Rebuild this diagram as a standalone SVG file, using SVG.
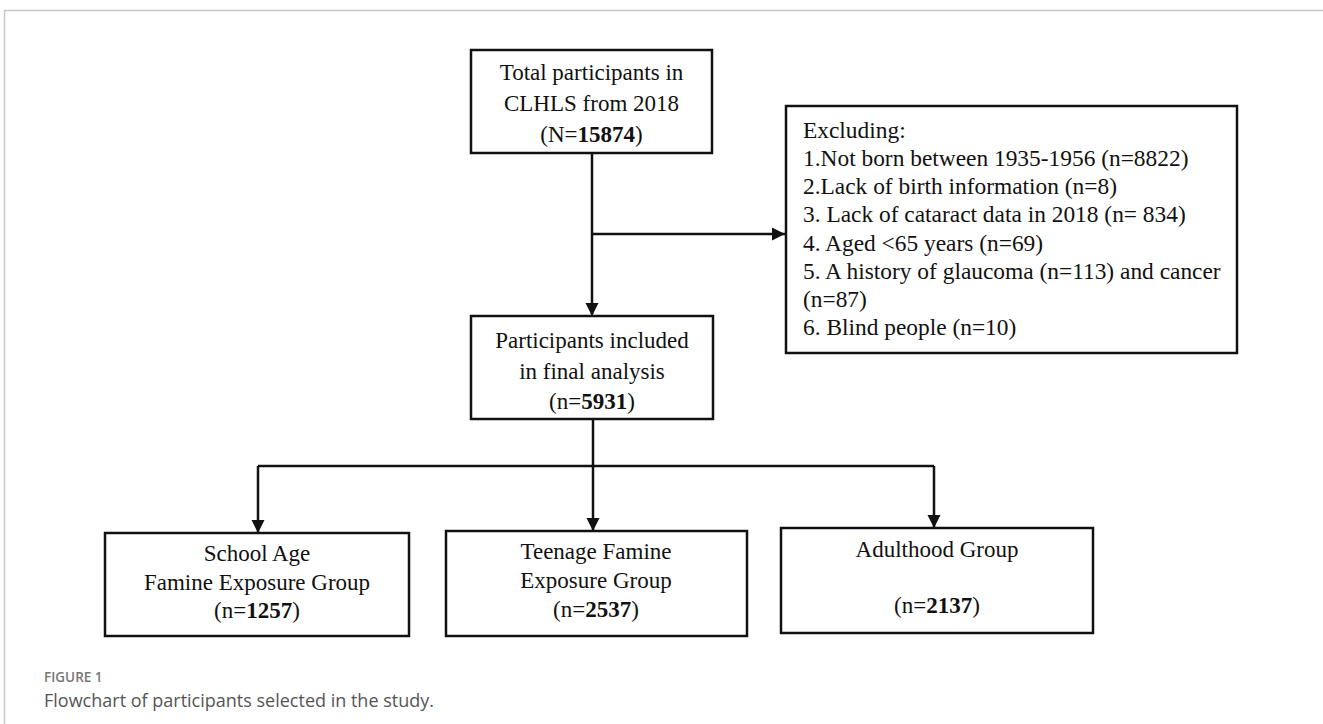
<svg xmlns="http://www.w3.org/2000/svg" width="1323" height="724" viewBox="0 0 1323 724">
<style>
.box{fill:#fff;stroke:#111;stroke-width:2.5}
.t{font-family:"Liberation Serif","Times New Roman",serif;font-size:23px;fill:#111}
.tx{font-size:23.4px}
.tc{text-anchor:middle}
.b{font-weight:bold}
.c{stroke:#111;stroke-width:2.5;fill:none}
.cap1{font-family:"Open Sans","Noto Sans",sans-serif;font-size:13.5px;fill:#777;font-weight:600}
.cap2{font-family:"Open Sans","Noto Sans",sans-serif;font-size:18px;fill:#555}
</style>
<defs>
<marker id="ah" viewBox="0 0 10 10" refX="10" refY="5" markerWidth="5.4" markerHeight="5.4" markerUnits="strokeWidth" orient="auto">
<path d="M0,0 L10,5 L0,10 z" fill="#111"/>
</marker>
</defs>
<rect x="0" y="0" width="1323" height="724" fill="#fff"/>
<path d="M4.5,724 V10.5 H1323" fill="none" stroke="#c8c8c8" stroke-width="1.5"/>

<g id="connectors">
<path class="c" d="M592,153 V316" marker-end="url(#ah)"/>
<path class="c" d="M592,234 H785" marker-end="url(#ah)"/>
<path class="c" d="M593,419 V531" marker-end="url(#ah)"/>
<path class="c" d="M258,466 H934"/>
<path class="c" d="M258,466 V533" marker-end="url(#ah)"/>
<path class="c" d="M934,466 V528" marker-end="url(#ah)"/>
</g>

<g id="total">
<rect class="box" x="471" y="50" width="241" height="103"/>
<text class="t tc" x="591.5" y="80">Total participants in</text>
<text class="t tc" x="591.5" y="111">CLHLS from 2018</text>
<text class="t tc" x="591.5" y="142">(N=<tspan class="b">15874</tspan>)</text>
</g>

<g id="excluding">
<rect class="box" x="786" y="106" width="451" height="247"/>
<text class="t tx" x="803" y="138">Excluding:</text>
<text class="t tx" x="803" y="166">1.Not born between 1935-1956 (n=8822)</text>
<text class="t tx" x="803" y="194">2.Lack of birth information (n=8)</text>
<text class="t tx" x="803" y="222">3. Lack of cataract data in 2018 (n= 834)</text>
<text class="t tx" x="803" y="251">4. Aged &lt;65 years (n=69)</text>
<text class="t tx" x="803" y="279">5. A history of glaucoma (n=113) and cancer</text>
<text class="t tx" x="803" y="307">(n=87)</text>
<text class="t tx" x="803" y="335">6. Blind people (n=10)</text>
</g>

<g id="final">
<rect class="box" x="471" y="316" width="242" height="103"/>
<text class="t tc" x="592" y="348">Participants included</text>
<text class="t tc" x="592" y="379">in final analysis</text>
<text class="t tc" x="592" y="409">(n=<tspan class="b">5931</tspan>)</text>
</g>

<g id="school">
<rect class="box" x="105" y="533" width="304" height="103"/>
<text class="t tc" x="257" y="561">School Age</text>
<text class="t tc" x="257" y="590">Famine Exposure Group</text>
<text class="t tc" x="257" y="618">(n=<tspan class="b">1257</tspan>)</text>
</g>

<g id="teenage">
<rect class="box" x="446" y="531" width="301" height="105"/>
<text class="t tc" x="596" y="559">Teenage Famine</text>
<text class="t tc" x="596" y="588">Exposure Group</text>
<text class="t tc" x="596" y="617">(n=<tspan class="b">2537</tspan>)</text>
</g>

<g id="adulthood">
<rect class="box" x="781" y="528" width="312" height="105"/>
<text class="t tc" x="937" y="557">Adulthood Group</text>
<text class="t tc" x="937" y="613">(n=<tspan class="b">2137</tspan>)</text>
</g>

<text class="cap1" x="44" y="682">FIGURE 1</text>
<text class="cap2" x="44" y="707">Flowchart of participants selected in the study.</text>
</svg>
